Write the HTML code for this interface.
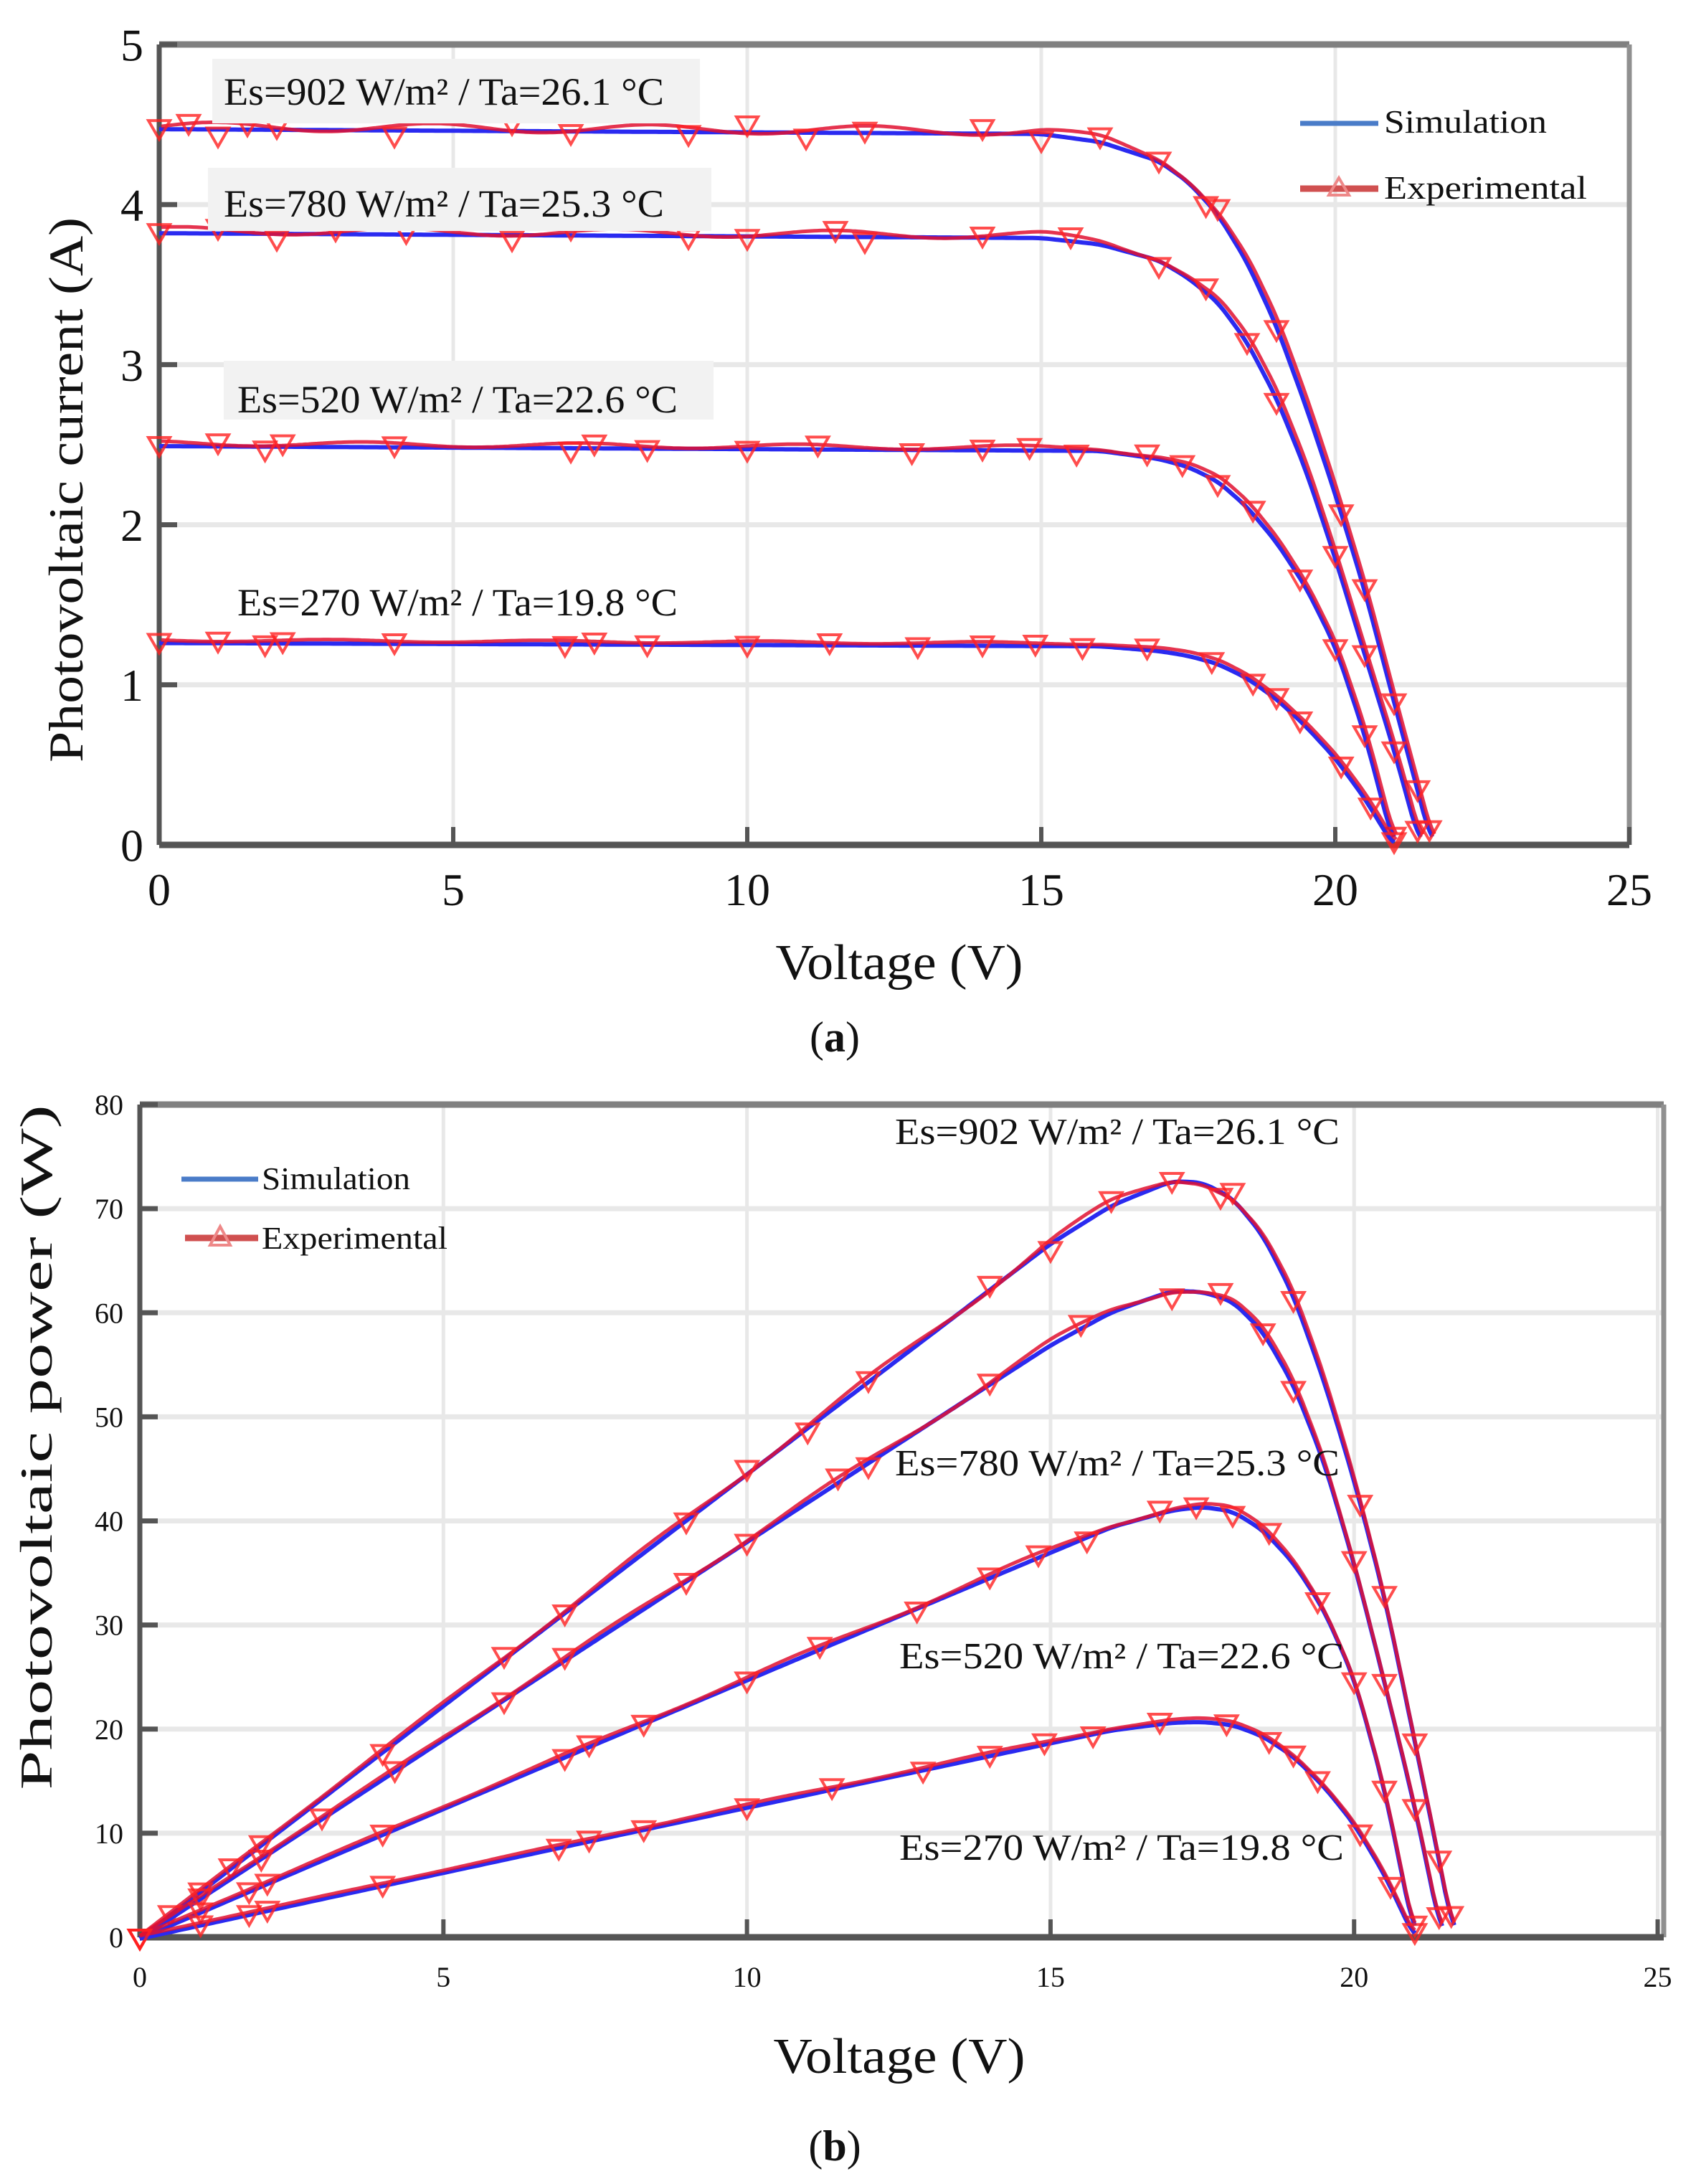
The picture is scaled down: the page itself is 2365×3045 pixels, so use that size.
<!DOCTYPE html>
<html><head><meta charset="utf-8"><style>
html,body{margin:0;padding:0;background:#fff;}
svg{display:block;}
text{font-family:"Liberation Serif",serif;fill:#111;}
</style></head><body>
<svg id="s" width="2365" height="3045" xmlns="http://www.w3.org/2000/svg">
<rect width="2365" height="3045" fill="#fff"/>
<g id="g"></g>
<!-- top annotations -->
<rect x="296" y="82" width="680" height="90" fill="#f2f2f2"/>
<rect x="290" y="234" width="702" height="88" fill="#f2f2f2"/>
<rect x="312" y="503" width="683" height="82" fill="#f2f2f2"/>
<text x="312" y="146" font-size="54" textLength="614" lengthAdjust="spacingAndGlyphs">Es=902 W/m² / Ta=26.1 °C</text>
<text x="312" y="302" font-size="54" textLength="614" lengthAdjust="spacingAndGlyphs">Es=780 W/m² / Ta=25.3 °C</text>
<text x="331" y="575" font-size="54" textLength="614" lengthAdjust="spacingAndGlyphs">Es=520 W/m² / Ta=22.6 °C</text>
<text x="331" y="858" font-size="54" textLength="614" lengthAdjust="spacingAndGlyphs">Es=270 W/m² / Ta=19.8 °C</text>
<line x1="1813" y1="172" x2="1922" y2="172" stroke="#4a7cc8" stroke-width="7"/>
<text x="1930" y="185" font-size="46" textLength="227" lengthAdjust="spacingAndGlyphs">Simulation</text>
<line x1="1813" y1="263" x2="1922" y2="263" stroke="#d05050" stroke-width="9"/>
<path d="M1867 248 L1881 272 L1853 272 Z" fill="none" stroke="#e88" stroke-width="4"/>
<text x="1930" y="277" font-size="46" textLength="283" lengthAdjust="spacingAndGlyphs">Experimental</text>
<text transform="translate(115,683) rotate(-90)" text-anchor="middle" font-size="68" textLength="760" lengthAdjust="spacingAndGlyphs">Photovoltaic current (A)</text>
<text x="1254" y="1365" text-anchor="middle" font-size="70" textLength="345" lengthAdjust="spacingAndGlyphs">Voltage (V)</text>
<text x="1164" y="1466" text-anchor="middle" font-size="60">(<tspan font-weight="bold">a</tspan>)</text>
<!-- bottom annotations -->
<text x="1248" y="1595" font-size="52" textLength="620" lengthAdjust="spacingAndGlyphs">Es=902 W/m² / Ta=26.1 °C</text>
<text x="1248" y="2057" font-size="52" textLength="620" lengthAdjust="spacingAndGlyphs">Es=780 W/m² / Ta=25.3 °C</text>
<text x="1254" y="2326" font-size="52" textLength="620" lengthAdjust="spacingAndGlyphs">Es=520 W/m² / Ta=22.6 °C</text>
<text x="1254" y="2593" font-size="52" textLength="620" lengthAdjust="spacingAndGlyphs">Es=270 W/m² / Ta=19.8 °C</text>
<line x1="253" y1="1644" x2="360" y2="1644" stroke="#4a7cc8" stroke-width="7"/>
<text x="365" y="1658" font-size="44" textLength="207" lengthAdjust="spacingAndGlyphs">Simulation</text>
<line x1="258" y1="1726" x2="360" y2="1726" stroke="#d05050" stroke-width="9"/>
<path d="M307 1710 L321 1736 L293 1736 Z" fill="none" stroke="#e88" stroke-width="4"/>
<text x="365" y="1741" font-size="44" textLength="259" lengthAdjust="spacingAndGlyphs">Experimental</text>
<text transform="translate(72,2018) rotate(-90)" text-anchor="middle" font-size="64" textLength="955" lengthAdjust="spacingAndGlyphs">Photovoltaic power (W)</text>
<text x="1254" y="2890" text-anchor="middle" font-size="70" textLength="351" lengthAdjust="spacingAndGlyphs">Voltage (V)</text>
<text x="1164" y="3012" text-anchor="middle" font-size="60">(<tspan font-weight="bold">b</tspan>)</text>
</svg>
<script>
const NS="http://www.w3.org/2000/svg";
const g=document.getElementById('g');
function el(t,a,p){const e=document.createElementNS(NS,t);for(const k in a)e.setAttribute(k,a[k]);(p||g).appendChild(e);return e;}
const curves=[
[[0,4.48],[15,4.45],[16,4.4],[17,4.28],[17.5,4.15],[18,3.95],[18.5,3.65],[19,3.25],[19.5,2.75],[20,2.2],[20.5,1.6],[21,0.9],[21.4,0.35],[21.65,0]],
[[0,3.83],[15,3.8],[16,3.76],[17,3.66],[17.5,3.55],[18,3.4],[18.5,3.15],[19,2.8],[19.5,2.35],[20,1.8],[20.5,1.2],[21,0.6],[21.45,0]],
[[0,2.5],[16,2.47],[17,2.42],[17.5,2.37],[18,2.28],[18.5,2.12],[19,1.9],[19.5,1.62],[20,1.25],[20.5,0.7],[21.0,0]],
[[0,1.27],[16,1.25],[17,1.22],[17.5,1.19],[18,1.14],[18.5,1.05],[19,0.92],[19.5,0.75],[20,0.55],[20.5,0.3],[21.0,0]]];
const mk=[
[0,0.5,1,1.5,2,4,6,7,9,10,11,12,14,15,16,17,17.8,18,19,20.1,20.5,21.0,21.4,21.6],
[0,1,2,3,4.2,6,7,9,10,11.5,12,14,15.5,17,17.8,18.5,19,20,20.5,21.0,21.4],
[0,1,1.8,2.1,4,7,7.4,8.3,10,11.2,12.8,14,14.8,15.6,16.8,17.4,18,18.6,19.4,20,20.5,21.0],
[0,1,1.8,2.1,4,6.9,7.4,8.3,10,11.4,12.9,14,14.9,15.7,16.8,17.9,18.6,19,19.4,20.1,20.6,21.0]];
function I(c,v){for(let i=1;i<c.length;i++){if(v<=c[i][0]){const a=c[i-1],b=c[i];const t=(v-a[0])/(b[0]-a[0]);return a[1]+(b[1]-a[1])*t;}}return 0;}
function smooth(c,v){ // smoothed interpolation
 let s=0,n=0;for(let d=-0.15;d<=0.151;d+=0.05){const vv=Math.max(0,Math.min(c[c.length-1][0],v+d));s+=I(c,vv);n++;}return s/n;}
function plot(o){
 const {L,R,T,B,xmax,ymax,ystep,grid,fs,ylx,xly,power}=o;
 const sx=v=>L+(R-L)*v/xmax, sy=y=>B-(B-T)*y/ymax;
 const gg=el('g',{});
 for(let v=5;v<xmax;v+=5)el('line',{x1:sx(v),x2:sx(v),y1:T,y2:B,stroke:'#e8e8e8','stroke-width':5},gg);
 for(let y=ystep;y<ymax;y+=ystep)el('line',{x1:L,x2:R,y1:sy(y),y2:sy(y),stroke:'#e8e8e8','stroke-width':7},gg);
 el('line',{x1:L,x2:R,y1:T,y2:T,stroke:'#808080','stroke-width':9},gg);
 el('line',{x1:R,x2:R,y1:T,y2:B,stroke:'#909090','stroke-width':7},gg);
 el('line',{x1:L,x2:R,y1:B,y2:B,stroke:'#555','stroke-width':9},gg);
 el('line',{x1:L,x2:L,y1:T,y2:B,stroke:'#555','stroke-width':7},gg);
 for(let v=0;v<=xmax;v+=5){el('line',{x1:sx(v),x2:sx(v),y1:B,y2:B-25,stroke:'#555','stroke-width':6},gg);
  const t=el('text',{x:sx(v),y:xly,'text-anchor':'middle','font-size':fs},gg);t.textContent=v;}
 for(let y=0;y<=ymax;y+=ystep){el('line',{x1:L,x2:L+25,y1:sy(y),y2:sy(y),stroke:'#555','stroke-width':7},gg);
  const t=el('text',{x:ylx,y:sy(y)+fs*0.35,'text-anchor':'end','font-size':fs},gg);t.textContent=y;}
 curves.forEach((c,ci)=>{
  const vmax=c[c.length-1][0];let pb='',pr='';
  for(let v=0;v<=vmax+0.001;v+=0.05){const i=smooth(c,v);const y=power?v*i:i;
   pb+=(pb?'L':'M')+sx(v).toFixed(1)+' '+(sy(y)+2).toFixed(1);
   const j=i*(1+0.006*Math.sin(v*1.7+ci));const y2=power?v*j:j;
   pr+=(pr?'L':'M')+(sx(v)+(power?0:3)).toFixed(1)+' '+(sy(y2)-2).toFixed(1);}
  el('path',{d:pb,fill:'none',stroke:'#2a2af0','stroke-width':6},gg);
  el('path',{d:pr,fill:'none',stroke:'#e01030','stroke-width':5,'stroke-opacity':0.85},gg);
  mk[ci].forEach((v,k)=>{const i=smooth(c,Math.min(v,vmax))*(1+0.01*Math.sin(k*2.3));const y=power?v*i:i;
   const x=sx(v),yy=sy(y);
   el('path',{d:`M${x-15} ${yy-10} L${x+15} ${yy-10} L${x} ${yy+16} Z`,fill:'none',stroke:'#ff2020','stroke-width':4,'stroke-opacity':0.8},gg);});
 });
}
plot({L:222,R:2272,T:62,B:1178,xmax:25,ymax:5,ystep:1,fs:64,ylx:200,xly:1262,power:false});
plot({L:195,R:2320,T:1540,B:2701,xmax:25.1,ymax:80,ystep:10,fs:40,ylx:172,xly:2770,power:true});
</script>
</body></html>
